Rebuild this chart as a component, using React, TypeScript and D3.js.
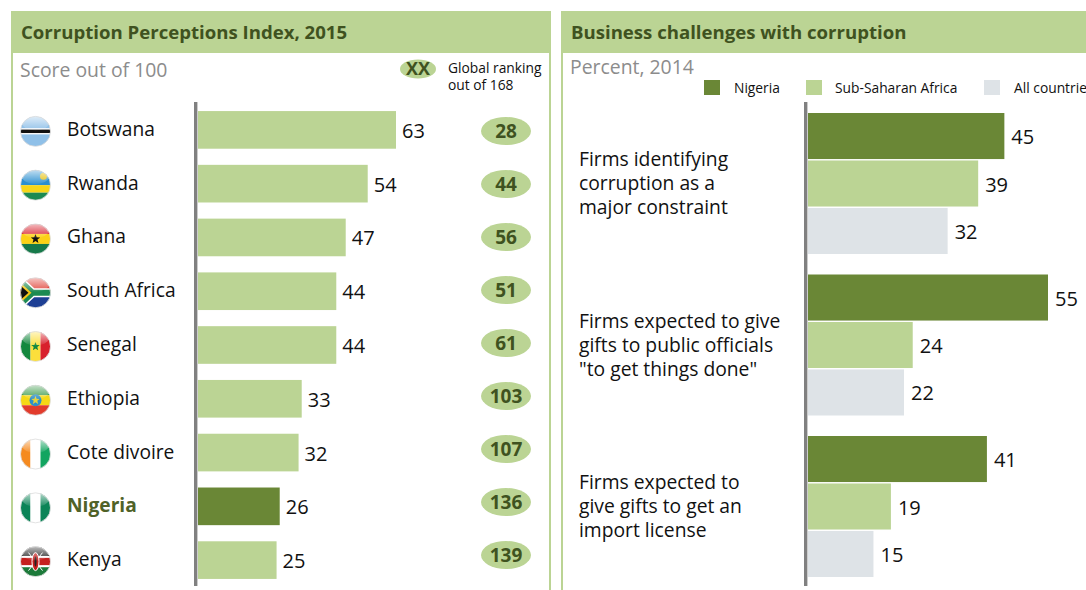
import React from 'react';
import * as d3 from 'd3';

const countries = ['Botswana', 'Rwanda', 'Ghana', 'South Africa', 'Senegal', 'Ethiopia', 'Cote divoire', 'Nigeria', 'Kenya'];
const scores = [63, 54, 47, 44, 44, 33, 32, 26, 25];
const ranks = [28, 44, 56, 51, 61, 103, 107, 136, 139];

const groups = ['constraint', 'gifts', 'license'];
const groupLabels = [
  ['Firms identifying', 'corruption as a', 'major constraint'],
  ['Firms expected to give', 'gifts to public officials', '"to get things done"'],
  ['Firms expected to', 'give gifts to get an', 'import license'],
];
const seriesNames = ['Nigeria', 'Sub-Saharan Africa', 'All countries'];
const nigeria = [45, 55, 41];
const subSaharan = [39, 24, 19];
const allCountries = [32, 22, 15];

const GREEN = '#bbd494';
const DARK = '#6a8736';
const GREY = '#dee3e7';
const TITLE = '#3f5220';
const FONT = '"Open Sans", sans-serif';

// flag stripes: [colour, weight], painted top to bottom or left to right
const flags: Record<string, { dir: 'h' | 'v'; stripes: [string, number][] }> = {
  Botswana: { dir: 'h', stripes: [['#8fc0e8', 10], ['#fff', 1], ['#111', 3], ['#fff', 1], ['#8fc0e8', 10]] },
  Rwanda: { dir: 'h', stripes: [['#2a8fd0', 2], ['#f7d618', 1], ['#1c8a52', 1]] },
  Ghana: { dir: 'h', stripes: [['#d8202c', 1], ['#fcd116', 1], ['#16794a', 1]] },
  'South Africa': { dir: 'h', stripes: [['#e0463c', 1], ['#1d3f94', 1]] },
  Senegal: { dir: 'v', stripes: [['#14883e', 1], ['#fcdf3c', 1], ['#d8202c', 1]] },
  Ethiopia: { dir: 'h', stripes: [['#3c9a4a', 1], ['#f5d816', 1], ['#e23b2c', 1]] },
  'Cote divoire': { dir: 'v', stripes: [['#f58a1f', 1], ['#fff', 1], ['#12a560', 1]] },
  Nigeria: { dir: 'v', stripes: [['#0b8457', 1], ['#fff', 1], ['#0b8457', 1]] },
  Kenya: { dir: 'h', stripes: [['#222', 5], ['#fff', 1], ['#c5201f', 4], ['#fff', 1], ['#1c7a3a', 5]] },
};

const R = 15;

function star(r: number) {
  const pts = d3.range(10).map(i => {
    const a = (i * Math.PI) / 5 - Math.PI / 2;
    const rr = i % 2 ? r * 0.42 : r;
    return [rr * Math.cos(a), rr * Math.sin(a)].join(',');
  });
  return pts.join(' ');
}

function Flag({ name, cy, idx }: { name: string; cy: number; idx: number }) {
  const f = flags[name];
  const total = d3.sum(f.stripes, d => d[1]);
  const pos = d3.scaleLinear().domain([0, total]).range([-R, R]);
  let acc = 0;
  const id = `clip${idx}`;
  return (
    <g transform={`translate(35.5,${cy})`}>
      <clipPath id={id}><circle r={R} /></clipPath>
      <g clipPath={`url(#${id})`}>
        {f.stripes.map(([c, w], i) => {
          const a = pos(acc);
          acc += w;
          const b = pos(acc);
          return f.dir === 'h'
            ? <rect key={i} x={-R} y={a} width={2 * R} height={b - a} fill={c} />
            : <rect key={i} x={a} y={-R} width={b - a} height={2 * R} fill={c} />;
        })}
        {name === 'Rwanda' && <circle cx={8} cy={-9} r={3.5} fill="#e5be01" />}
        {name === 'Ghana' && <polygon points={star(5)} fill="#111" />}
        {name === 'Senegal' && <polygon points={star(4.5)} fill="#14883e" />}
        {name === 'Ethiopia' && <><circle r={6} fill="#2f8fc8" /><polygon points={star(4.5)} fill="#e5d33c" /></>}
        {name === 'South Africa' && <>
          <path d="M-17,-13 L-3,0 L17,0 M-17,13 L-3,0" fill="none" stroke="#fff" strokeWidth={9} />
          <path d="M-17,-13 L-3,0 L17,0 M-17,13 L-3,0" fill="none" stroke="#1c8a52" strokeWidth={6} />
          <path d="M-16,-11 L-4,0 L-16,11 Z" fill="#f5c518" />
          <path d="M-16,-8 L-7,0 L-16,8 Z" fill="#111" />
        </>}
        {name === 'Kenya' && <>
          <path d="M-7,-9 L7,9 M7,-9 L-7,9" stroke="#fff" strokeWidth={1} />
          <ellipse rx={3.5} ry={9} fill="#c5201f" stroke="#fff" strokeWidth={1} />
          <ellipse rx={1} ry={5} fill="#222" />
        </>}
        <ellipse cy={-8} rx={13} ry={7} fill="url(#gloss)" />
      </g>
      <circle r={R} fill="none" stroke="#dcdcdc" strokeWidth={0.8} />
    </g>
  );
}

function Panel({ x, w, title }: { x: number; w: number; title: string }) {
  return (
    <g>
      <rect x={x + 1} y={12} width={w - 2} height={600} fill="#fff" stroke={GREEN} strokeWidth={2} />
      <rect x={x} y={11} width={w} height={42} fill={GREEN} />
      <text x={x + 10} y={38.5} fontSize={18.6} fontWeight={700} fill={TITLE}>{title}</text>
    </g>
  );
}

export default function App() {
  // left panel scales
  const xScore = d3.scaleLinear().domain([0, 63]).range([198, 396]);
  const yCountry = d3.scaleBand<string>().domain(countries).range([103, 587]).paddingInner(0.3).paddingOuter(0.15);
  const yRank = d3.scalePoint<string>().domain(countries).range([131, 555]);

  // right panel scales
  const xPct = d3.scaleLinear().domain([0, 55]).range([808, 1048]);
  const yGroup = d3.scaleBand<string>().domain(groups).range([113, 597.5]).paddingInner(0).paddingOuter(0);
  const ySeries = d3.scaleBand<string>().domain(seriesNames).range([0, 141]).paddingInner(0.03);
  const seriesValues = [nigeria, subSaharan, allCountries];
  const seriesColors = [DARK, GREEN, GREY];
  const legendSwatch = [704, 806, 984];
  const legendText = [734, 835, 1014];

  return (
    <svg width={1086} height={590} style={{ position: 'absolute', left: 0, top: 0, background: '#fff' }} fontFamily={FONT}>
      <defs>
        <linearGradient id="gloss" x1="0" y1="0" x2="0" y2="1">
          <stop offset="0" stopColor="#fff" stopOpacity={0.7} />
          <stop offset="1" stopColor="#fff" stopOpacity={0.05} />
        </linearGradient>
      </defs>

      <Panel x={11} w={540} title="Corruption Perceptions Index, 2015" />
      <Panel x={561} w={540} title="Business challenges with corruption" />

      <text x={20} y={77} fontSize={19.4} fill="#8c8c8c">Score out of 100</text>
      <ellipse cx={418} cy={69} rx={18} ry={9.5} fill={GREEN} />
      <text x={418} y={75} fontSize={18} fontWeight={700} fill={TITLE} textAnchor="middle">XX</text>
      <text x={448} y={73} fontSize={13.8} fill="#111">Global ranking</text>
      <text x={448} y={90} fontSize={13.8} fill="#111">out of 168</text>

      {countries.map((c, i) => {
        const y = yCountry(c)!;
        const h = yCountry.bandwidth();
        const cy = y + h / 2;
        const isNg = c === 'Nigeria';
        return (
          <g key={c}>
            <Flag name={c} cy={cy + 1.5} idx={i} />
            <text x={67} y={cy + 6} fontSize={19.2} fontWeight={isNg ? 700 : 400} fill={isNg ? '#4f6228' : '#111'}>{c}</text>
            <rect x={xScore(0)} y={y} width={xScore(scores[i]) - xScore(0)} height={h} fill={isNg ? DARK : GREEN} />
            <text x={xScore(scores[i]) + 6} y={cy + 8} fontSize={20} fill="#111">{scores[i]}</text>
            <ellipse cx={506} cy={yRank(c)!} rx={25} ry={14} fill={GREEN} />
            <text x={506} y={yRank(c)! + 6.5} fontSize={19} fontWeight={700} fill={TITLE} textAnchor="middle">{ranks[i]}</text>
          </g>
        );
      })}
      <line x1={195.7} x2={195.7} y1={102} y2={586} stroke="#808080" strokeWidth={3.4} />

      <text x={570} y={74} fontSize={19.4} fill="#8c8c8c">Percent, 2014</text>
      {seriesNames.map((s, i) => (
        <g key={s}>
          <rect x={legendSwatch[i]} y={80} width={16} height={15} fill={seriesColors[i]} />
          <text x={legendText[i]} y={93} fontSize={13.8} fill="#111">{s}</text>
        </g>
      ))}

      {groups.map((g, gi) => {
        const gy = yGroup(g)!;
        return (
          <g key={g} transform={`translate(0,${gy})`}>
            {groupLabels[gi].map((l, li) => (
              <text key={l} x={579} y={53 + li * 24} fontSize={19.3} fill="#111">{l}</text>
            ))}
            {seriesNames.map((s, si) => {
              const v = seriesValues[si][gi];
              const y = ySeries(s)!;
              const h = ySeries.bandwidth();
              return (
                <g key={s}>
                  <rect x={xPct(0)} y={y} width={xPct(v) - xPct(0)} height={h} fill={seriesColors[si]} />
                  <text x={xPct(v) + 7} y={y + h / 2 + 8} fontSize={20} fill="#111">{v}</text>
                </g>
              );
            })}
          </g>
        );
      })}
      <line x1={805.7} x2={805.7} y1={102} y2={586} stroke="#808080" strokeWidth={3.4} />
    </svg>
  );
}
